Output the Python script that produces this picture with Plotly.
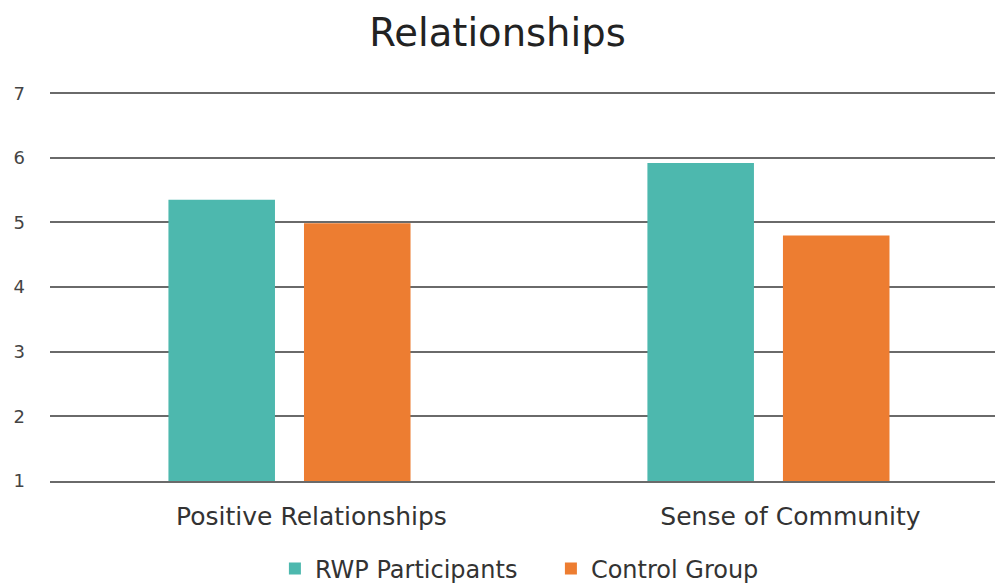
import plotly.graph_objects as go

categories = ["Positive Relationships", "Sense of Community"]
rwp_participants = [5.35, 5.92]
control_group = [4.99, 4.80]
y_ticks = [1, 2, 3, 4, 5, 6, 7]

TEAL = "#4DB8AE"
ORANGE = "#ED7D31"
GRID = "#6a6a6a"
FONT = "DejaVu Sans, sans-serif"

fig = go.Figure()
fig.add_trace(go.Bar(name="RWP Participants", x=categories, y=rwp_participants,
                     marker=dict(color=TEAL, line=dict(width=0))))
fig.add_trace(go.Bar(name="Control Group", x=categories, y=control_group,
                     marker=dict(color=ORANGE, line=dict(width=0))))

fig.update_layout(
    width=995, height=583,
    margin=dict(l=50, r=0, t=90, b=102),
    paper_bgcolor="white", plot_bgcolor="white",
    barmode="group", bargap=0.434, bargroupgap=0.214,
    font=dict(family=FONT, color="#333333"),
    title=dict(text="Relationships", x=0.5, xanchor="center", y=0.945, yanchor="middle",
               font=dict(size=38.5, color="#222222", family=FONT)),
    showlegend=True,
    legend=dict(orientation="h", x=0.238, xanchor="left",
                yref="container", y=0.024, yanchor="middle",
                font=dict(size=24, color="#333333"), itemwidth=30,
                entrywidth=231, entrywidthmode="pixels", traceorder="normal"),
    # the baseline at 1 is drawn as the x-axis line
    xaxis=dict(range=[-0.5, 1.473], showgrid=False, zeroline=False,
               showline=True, linecolor=GRID, linewidth=1.5,
               tickfont=dict(size=25, color="#333333"), ticks="",
               ticklabelstandoff=12, ticklabelshift=22),
    yaxis=dict(range=[1, 7.05], tickvals=y_ticks, showgrid=True, gridcolor=GRID,
               gridwidth=1.5, zeroline=False, showline=False,
               tickfont=dict(size=18, color="#444444"), ticks="", ticklabelstandoff=24),
)

fig.write_html("out.html")
